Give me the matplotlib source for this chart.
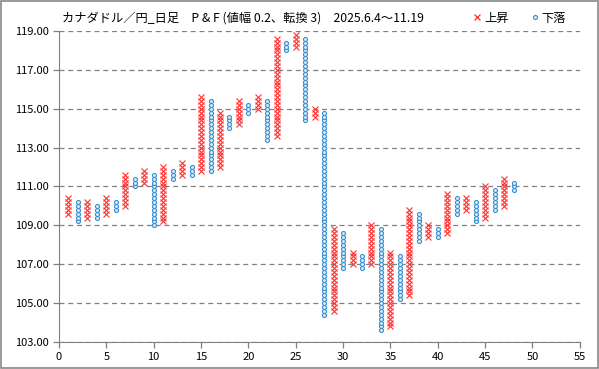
import numpy as np
import matplotlib
matplotlib.use('Agg')
import matplotlib.pyplot as plt
from matplotlib.lines import Line2D

plt.rcParams['font.family'] = ['Noto Sans CJK JP', 'DejaVu Sans']

# P&F columns: 'X' = rising, 'O' = falling, with low/high box values
col_type = ['X', 'O', 'X', 'O', 'X', 'O', 'X', 'O', 'X', 'O',
            'X', 'O', 'X', 'O', 'X', 'O', 'X', 'O', 'X', 'O',
            'X', 'O', 'X', 'O', 'X', 'O', 'X', 'O', 'X', 'O',
            'X', 'O', 'X', 'O', 'X', 'O', 'X', 'O', 'X', 'O',
            'X', 'O', 'X', 'O', 'X', 'O', 'X', 'O']
col_low = [109.6, 109.2, 109.4, 109.4, 109.6, 109.8, 110.0, 111.0, 111.2, 109.0,
           109.2, 111.4, 111.6, 111.6, 111.8, 111.8, 112.0, 114.0, 114.2, 114.8,
           115.0, 113.4, 113.6, 118.0, 118.2, 114.4, 114.6, 104.4, 104.6, 106.8,
           107.0, 106.8, 107.0, 103.6, 103.8, 105.2, 105.4, 108.2, 108.4, 108.4,
           108.6, 109.6, 109.8, 109.2, 109.4, 109.8, 110.0, 110.8]
col_high = [110.4, 110.2, 110.2, 110.0, 110.4, 110.2, 111.6, 111.4, 111.8, 111.6,
            112.0, 111.8, 112.2, 112.0, 115.6, 115.4, 114.8, 114.6, 115.4, 115.2,
            115.6, 115.4, 118.6, 118.4, 118.8, 118.6, 115.0, 114.8, 108.8, 108.6,
            107.6, 107.4, 109.0, 108.8, 107.6, 107.4, 109.8, 109.6, 109.0, 108.8,
            110.6, 110.4, 110.4, 110.2, 111.0, 110.8, 111.4, 111.2]
box = 0.2

title = 'カナダドル／円_日足　P & F (値幅 0.2、転換 3)　2025.6.4〜11.19'
y_ticks = np.arange(103, 119.01, 2)
x_ticks = np.arange(0, 56, 5)

# expand columns into boxes
xs_x, ys_x, xs_o, ys_o = [], [], [], []
for i, (t, lo, hi) in enumerate(zip(col_type, col_low, col_high)):
    n = int(round((hi - lo) / box)) + 1
    vals = lo + box * np.arange(n)
    if t == 'X':
        xs_x += [i + 1] * n
        ys_x += list(vals)
    else:
        xs_o += [i + 1] * n
        ys_o += list(vals)

fig = plt.figure(figsize=(5.99, 3.69), dpi=100)
ax = fig.add_axes([0.0985, 0.0732, 0.8695, 0.8428])

red = '#FF3030'
blue = '#3A8FD0'
ax.plot(xs_x, ys_x, linestyle='none', marker='x', markersize=4.0,
        markeredgewidth=0.8, color=red, zorder=3)
ax.plot(xs_o, ys_o, linestyle='none', marker='o', markersize=2.9,
        markeredgewidth=0.8, markeredgecolor=blue, markerfacecolor='#DCEBF7', zorder=3)

ax.set_xlim(0, 55)
ax.set_ylim(103, 119)
ax.set_xticks(x_ticks)
ax.set_yticks(y_ticks)
ax.set_yticklabels([f'{v:.2f}' for v in y_ticks])
ax.yaxis.grid(True, linestyle=(0, (4, 3)), color='#808080', linewidth=0.9)
ax.set_axisbelow(True)
for s in ['top', 'right']:
    ax.spines[s].set_visible(False)
for s in ['left', 'bottom']:
    ax.spines[s].set_color('#808080')
ax.tick_params(axis='both', colors='#808080', labelcolor='black', labelsize=8,
               length=4, width=0.9, direction='out')

fig.text(0.1035, 0.951, title, fontsize=8.8, va='center', ha='left')

handles = [Line2D([], [], linestyle='none', marker='x', markersize=4.0,
                  markeredgewidth=0.9, color=red),
           Line2D([], [], linestyle='none', marker='o', markersize=2.9,
                  markeredgewidth=0.8, markeredgecolor=blue, markerfacecolor='#DCEBF7')]
fig.legend(handles, ['上昇', '下落'], loc='center right', bbox_to_anchor=(0.945, 0.951),
           ncol=2, frameon=False, fontsize=8.8, handlelength=0.7, handletextpad=0.2,
           columnspacing=1.8, borderaxespad=0, borderpad=0)

# chart border
fig.patches.append(plt.Rectangle((0.002, 0.003), 0.996, 0.994, transform=fig.transFigure,
                                 fill=False, edgecolor='#888888', linewidth=1.2))

fig.savefig('out.png', dpi=100)
